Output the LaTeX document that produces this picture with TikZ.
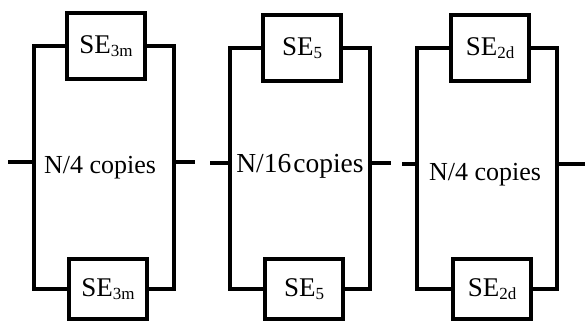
\documentclass[tikz,border=0pt]{standalone}
\usepackage{fontspec}
\setmainfont{Liberation Serif}
\newcommand{\lowsub}[1]{{\fontsize{17}{17}\selectfont\raisebox{-3pt}{#1}}}
\begin{document}
\begin{tikzpicture}[x=1pt,y=-1pt,
  wire/.style={line width=4pt,line join=miter},
  sebox/.style={draw,line width=4pt,rectangle,inner sep=0pt,
    minimum width=78pt,font=\fontsize{27}{30}\selectfont},
  copies/.style={font=\fontsize{26}{30}\selectfont,inner sep=0pt,anchor=base}]
\useasboundingbox (0,0) rectangle (585,325);

% ---- first stage: SE_3m ----
\node[sebox,minimum height=66pt] (t1) at (106,46) {SE\lowsub{3m}};
\node[sebox,minimum height=60pt] (b1) at (108,289) {SE\lowsub{3m}};
\coordinate (l1) at (34,162);
\coordinate (r1) at (174,162);
\coordinate (in1) at (8,162);
\coordinate (out1) at (195,162);
\draw[wire] (t1.west) -| (l1) |- (b1.west);
\draw[wire] (t1.east) -| (r1) |- (b1.east);
\draw[wire] (in1) -- (l1);
\draw[wire] (r1) -- (out1);
\node[copies] (c1) at (100,173) {N/4 copies};

% ---- second stage: SE_5 ----
\node[sebox,minimum height=66pt] (t2) at (302,48) {SE\lowsub{5}};
\node[sebox,minimum height=60pt] (b2) at (304,289) {SE\lowsub{5}};
\coordinate (l2) at (230,163);
\coordinate (r2) at (370,163);
\coordinate (in2) at (210,163);
\coordinate (out2) at (391,163);
\draw[wire] (t2.west) -| (l2) |- (b2.west);
\draw[wire] (t2.east) -| (r2) |- (b2.east);
\draw[wire] (in2) -- (l2);
\draw[wire] (r2) -- (out2);
\node[copies,font=\fontsize{27.5}{30}\selectfont] (c2) at (300,172) {N/16\hspace{2pt}copies};

% ---- third stage: SE_2d ----
\node[sebox,minimum height=66pt] (t3) at (490,48) {SE\lowsub{2d}};
\node[sebox,minimum height=60pt] (b3) at (492,289) {SE\lowsub{2d}};
\coordinate (l3) at (417,164);
\coordinate (r3) at (557,164);
\coordinate (in3) at (402,164);
\coordinate (out3) at (585,164);
\draw[wire] (t3.west) -| (l3) |- (b3.west);
\draw[wire] (t3.east) -| (r3) |- (b3.east);
\draw[wire] (in3) -- (l3);
\draw[wire] (r3) -- (out3);
\node[copies] (c3) at (485,180) {N/4 copies};
\end{tikzpicture}
\end{document}
